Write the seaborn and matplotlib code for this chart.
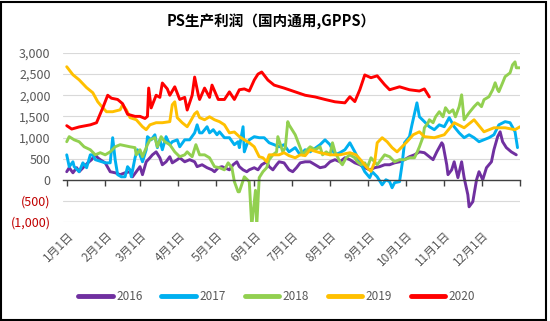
import matplotlib
matplotlib.use("Agg")
import matplotlib.pyplot as plt
import seaborn as sns
import pandas as pd
from matplotlib.patches import Rectangle
from matplotlib.lines import Line2D

# ---------------- data (day of year, profit value) ----------------
days_2016 = [0, 2, 5, 8, 10, 14, 17, 20, 23, 25, 27, 31, 35, 39, 43, 47, 51, 53, 56, 59, 61, 64, 67, 69, 72,
             75, 77, 80, 83, 85, 89, 91, 95, 99, 103, 105, 109, 113, 117, 119, 122, 125, 127, 131, 134, 137,
             139, 142, 145, 147, 151, 154, 157, 161, 163, 166, 169, 171, 175, 179, 182, 185, 188, 192, 196,
             200, 204, 208, 212, 216, 220, 224, 228, 232, 236, 240, 244, 248, 252, 256, 260, 264, 268, 272,
             276, 280, 284, 288, 292, 295, 298, 302, 303, 306, 307, 310, 312, 315, 318, 320, 323, 324, 327,
             330, 332, 335, 338, 342, 344, 347, 349, 351, 354, 358, 362]
vals_2016 = [190, 285, 165, 285, 190, 310, 400, 475, 590, 520, 475, 400, 190, 165, 120, 165, 190, 70, 190, 310,
             120, 425, 520, 590, 660, 520, 355, 425, 545, 400, 475, 520, 425, 475, 425, 310, 355, 285, 235,
             190, 285, 310, 285, 235, 355, 425, 310, 235, 190, 235, 285, 235, 355, 425, 310, 235, 355, 425,
             400, 235, 190, 285, 400, 425, 425, 355, 285, 310, 425, 475, 425, 520, 475, 400, 355, 285, 235,
             285, 310, 355, 355, 400, 425, 475, 545, 590, 660, 640, 545, 475, 660, 875, 830, 355, 120, 235,
             425, 50, 425, 50, -355, -640, -520, 0, 190, 0, 285, 425, 710, 1020, 1135, 900, 760, 660, 590]

days_2017 = [0, 2, 5, 6, 10, 13, 16, 19, 21, 23, 31, 35, 37, 39, 41, 44, 47, 49, 51, 52, 55, 57, 59, 61, 64,
             65, 68, 71, 73, 75, 77, 80, 83, 85, 89, 91, 95, 99, 103, 105, 107, 109, 113, 115, 118, 121, 123,
             127, 131, 135, 138, 139, 142, 143, 145, 147, 151, 155, 159, 163, 167, 171, 175, 179, 184, 188,
             192, 196, 204, 208, 212, 216, 220, 224, 228, 232, 236, 240, 244, 246, 250, 254, 257, 260, 262,
             264, 268, 270, 272, 276, 278, 282, 284, 288, 292, 296, 300, 304, 308, 312, 316, 320, 324, 328,
             332, 340, 344, 348, 353, 357, 361, 363]
vals_2017 = [590, 310, 425, 310, 190, 400, 285, 590, 590, 475, 400, 400, 995, 475, 120, 70, 70, 310, 235, 70,
             520, 710, 590, 425, 710, 1020, 945, 1065, 760, 945, 710, 1020, 830, 900, 945, 780, 945, 945, 1110,
             1300, 1110, 1110, 1255, 1110, 1185, 1065, 1135, 995, 995, 830, 900, 760, 1255, 660, 830, 945, 1020,
             995, 995, 875, 830, 780, 830, 660, 760, 590, 710, 660, 830, 945, 830, 590, 640, 710, 875, 660, 425,
             190, 50, 190, 70, -120, 0, -45, -190, -70, -45, 355, 875, 1020, 1300, 1820, 1490, 1375, 1255, 1185,
             1300, 1255, 1470, 1255, 1110, 995, 1065, 995, 900, 995, 1065, 1300, 1375, 1350, 1135, 760]

days_2018 = [0, 2, 6, 10, 14, 19, 23, 27, 31, 35, 39, 43, 51, 55, 56, 59, 61, 65, 67, 71, 73, 76, 79, 83, 87,
             91, 95, 97, 101, 104, 107, 111, 115, 119, 123, 127, 130, 133, 135, 138, 139, 143, 147, 149, 152,
             153, 155, 158, 161, 163, 166, 169, 170, 174, 176, 178, 179, 184, 188, 190, 192, 196, 200, 204,
             206, 209, 212, 214, 216, 220, 222, 225, 228, 232, 234, 237, 240, 242, 245, 250, 256, 260, 264,
             268, 272, 276, 280, 282, 284, 287, 288, 291, 292, 295, 297, 300, 303, 305, 308, 311, 313, 316,
             318, 320, 324, 328, 331, 334, 336, 340, 343, 345, 347, 348, 351, 353, 357, 359, 361, 362, 365]
vals_2018 = [900, 1020, 945, 900, 780, 710, 590, 640, 590, 660, 780, 830, 780, 760, 590, 710, 545, 830, 945,
             995, 780, 1020, 900, 830, 660, 545, 590, 660, 545, 830, 590, 590, 520, 310, 285, 235, 400, 285,
             -45, -285, -285, 70, -45, -1100, -250, -1100, 50, 190, 285, 475, 590, 660, 1020, 660, 760, 1375,
             1300, 1065, 760, 590, 660, 780, 710, 780, 590, 660, 590, 875, 660, 425, 355, 520, 590, 520, 425,
             355, 400, 285, 520, 355, 590, 545, 425, 475, 475, 520, 520, 640, 780, 1020, 1230, 1350, 1420, 1350,
             1490, 1610, 1490, 1705, 1585, 1655, 1490, 1730, 2010, 1420, 1585, 1730, 1820, 1730, 1895, 1965,
             2130, 2295, 2130, 2085, 2295, 2440, 2530, 2720, 2790, 2650, 2650]

days_2019 = [0, 5, 10, 16, 21, 25, 29, 32, 37, 43, 45, 48, 51, 56, 61, 64, 67, 72, 77, 83, 85, 87, 89, 93, 97,
             99, 103, 105, 107, 111, 115, 119, 123, 127, 131, 135, 139, 143, 147, 151, 155, 158, 161, 163, 167,
             171, 175, 179, 184, 188, 192, 196, 204, 212, 220, 228, 233, 238, 241, 245, 248, 250, 254, 258, 262,
             266, 270, 274, 279, 284, 288, 296, 304, 312, 320, 328, 336, 344, 353, 361, 365]
vals_2019 = [2675, 2485, 2365, 2180, 2060, 1845, 1705, 1610, 1610, 1655, 1775, 1655, 1470, 1420, 1255, 1185,
             1300, 1350, 1350, 1375, 1775, 1845, 1470, 1350, 1255, 1350, 1560, 1610, 1470, 1420, 1490, 1420,
             1375, 1300, 1110, 1130, 1020, 945, 875, 780, 545, 520, 425, 590, 590, 590, 640, 570, 520, 590,
             570, 710, 640, 590, 590, 640, 590, 425, 310, 200, 425, 875, 995, 900, 760, 660, 780, 900, 1065,
             1135, 1020, 995, 1065, 1350, 1230, 1420, 1135, 1230, 1230, 1185, 1255]

days_2020 = [0, 4, 10, 19, 24, 29, 33, 36, 41, 45, 49, 55, 59, 63, 65, 66, 68, 72, 75, 77, 81, 83, 87, 91, 95,
             97, 101, 103, 106, 107, 111, 115, 117, 122, 127, 131, 135, 139, 143, 147, 151, 154, 157, 162, 167,
             175, 184, 192, 200, 208, 216, 224, 228, 232, 236, 240, 245, 250, 256, 260, 268, 276, 284, 288, 292]
vals_2020 = [1280, 1200, 1250, 1300, 1350, 1700, 2000, 1930, 1900, 1800, 1550, 1500, 1500, 1450, 1500, 2170,
             1700, 2000, 1950, 2290, 2150, 2000, 2200, 1900, 1950, 1650, 2000, 2430, 2000, 1900, 2170, 1950,
             2240, 1900, 1900, 2080, 1900, 2130, 2150, 2100, 2360, 2500, 2550, 2360, 2240, 2170, 2080, 2000,
             1960, 1900, 1845, 1820, 1965, 1850, 2130, 2480, 2415, 2460, 2250, 2130, 2200, 2130, 2100, 2150, 1960]

years = ["2016", "2017", "2018", "2019", "2020"]
colors = ["#7030A0", "#00B0F0", "#92D050", "#FFC000", "#FF0000"]
month_days = [0, 31, 59, 90, 120, 151, 181, 212, 243, 273, 304, 334]
month_labels = [f"{m}月1日" for m in range(1, 13)]
y_ticks = [-1000, -500, 0, 500, 1000, 1500, 2000, 2500, 3000]
y_labels = ["(1,000)", "(500)", "0", "500", "1,000", "1,500", "2,000", "2,500", "3,000"]
title = "PS生产利润（国内通用,GPPS）"

series = {"2016": (days_2016, vals_2016), "2017": (days_2017, vals_2017),
          "2018": (days_2018, vals_2018), "2019": (days_2019, vals_2019),
          "2020": (days_2020, vals_2020)}
df = pd.concat([pd.DataFrame({"day": d, "value": v, "year": y}) for y, (d, v) in series.items()],
               ignore_index=True)

# ---------------- plot ----------------
sns.set_theme(style="white")
plt.rcParams["font.family"] = ["Noto Sans CJK SC", "DejaVu Sans"]

W, H = 550, 321
fig = plt.figure(figsize=(W / 100, H / 100), dpi=100)
L, R, T, B = 63, 520, 53, 222
ax = fig.add_axes([L / W, 1 - B / H, (R - L) / W, (B - T) / H])

sns.lineplot(data=df, x="day", y="value", hue="year", hue_order=years,
             palette=dict(zip(years, colors)), estimator=None, sort=False,
             linewidth=2.1, ax=ax, legend=False)

ax.set_xlim(-3, 365)
ax.set_ylim(-1000, 3000)
ax.set_xlabel("")
ax.set_ylabel("")

ax.set_yticks(y_ticks)
ax.set_yticklabels(y_labels)
for lab, v in zip(ax.get_yticklabels(), y_ticks):
    lab.set_color("#C00000" if v < 0 else "#595959")
ax.tick_params(axis="y", length=0, pad=9, labelsize=9)
ax.yaxis.grid(True, color="#D9D9D9", linewidth=0.8)
ax.xaxis.grid(False)
ax.set_axisbelow(True)

for s in ["left", "right", "top"]:
    ax.spines[s].set_visible(False)
ax.spines["bottom"].set_position(("data", 0))
ax.spines["bottom"].set_color("#404040")
ax.spines["bottom"].set_linewidth(1.0)
ax.set_xticks(month_days + [365])
ax.tick_params(axis="x", bottom=True, direction="out", length=4, width=1,
               color="#404040", labelbottom=False)

sec = ax.secondary_xaxis("bottom")
sec.set_xticks(month_days)
sec.set_xticklabels(month_labels)
sec.tick_params(length=0, pad=5, labelsize=8.5, labelcolor="#595959")
sec.spines["bottom"].set_visible(False)
for lab in sec.get_xticklabels():
    lab.set_rotation(45)
    lab.set_ha("right")
    lab.set_va("top")
    lab.set_rotation_mode("anchor")

fig.text(0.493, 1 - 22 / H, title, ha="center", va="center", fontsize=10.5,
         fontweight="bold", color="#000000")

handles = [Line2D([0], [0], color=c, lw=3.5) for c in colors]
fig.legend(handles, years, loc="center", bbox_to_anchor=(0.503, 1 - 297 / H), ncol=5,
           frameon=False, fontsize=8.5, handlelength=2.9, handletextpad=0.3,
           columnspacing=1.6, labelcolor="#595959")

fig.patches.append(Rectangle((1 / W, 1 / H), (545 / W), (318 / H), transform=fig.transFigure,
                             fill=False, edgecolor="#000000", linewidth=1.5))

fig.savefig("out.png", dpi=100)
